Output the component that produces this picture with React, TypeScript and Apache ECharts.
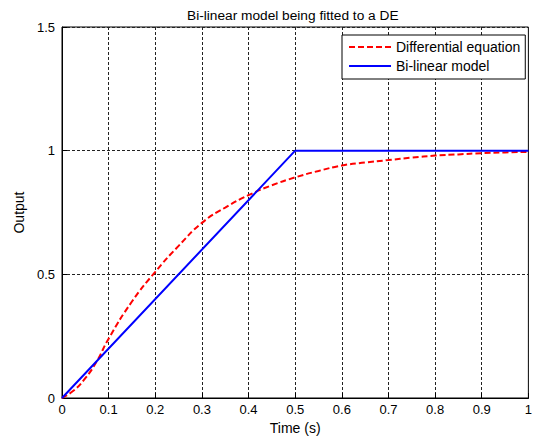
import React, { useEffect, useRef } from "react";
import * as echarts from "echarts";

const titleText = "Bi-linear model being fitted to a DE";
const xName = "Time (s)";
const yName = "Output";

const deTime = [0, 0.025, 0.05, 0.075, 0.1, 0.15, 0.2, 0.25, 0.3, 0.35, 0.4, 0.45, 0.5, 0.55, 0.6, 0.65, 0.7, 0.75, 0.8, 0.85, 0.9, 0.95, 1.0];
const deOutput = [0, 0.03, 0.08, 0.15, 0.24, 0.39, 0.51, 0.615, 0.708, 0.77, 0.82, 0.86, 0.892, 0.918, 0.94, 0.952, 0.962, 0.972, 0.98, 0.985, 0.99, 0.993, 0.995];

const blTime = [0, 0.5, 1.0];
const blOutput = [0, 1, 1];

const FONT = "'Liberation Sans', Arial, sans-serif";

export default function App() {
  const ref = useRef<HTMLDivElement>(null);
  useEffect(() => {
    if (!ref.current) return;
    const chart = echarts.init(ref.current, undefined, { renderer: "svg" });
    const gridLine = { show: true, lineStyle: { color: "#222", width: 1, type: [3, 2] as any } };
    chart.setOption({
      animation: false,
      backgroundColor: "#fff",
      textStyle: { fontFamily: FONT },
      title: {
        text: titleText,
        left: 182,
        top: 3,
        textStyle: { fontFamily: FONT, fontSize: 13.7, fontWeight: "normal", color: "#000" },
      },
      grid: {
        left: 62,
        right: 3,
        top: 27,
        bottom: 42,
        show: true,
        borderColor: "#000",
        borderWidth: 1,
        backgroundColor: "#fff",
      },
      legend: {
        orient: "vertical",
        left: 342,
        top: 35,
        padding: [5, 5, 6, 6],
        itemWidth: 42,
        itemHeight: 14,
        itemGap: 5,
        borderColor: "#000",
        borderWidth: 1,
        backgroundColor: "#fff",
        itemStyle: { opacity: 0 },
        textStyle: { fontFamily: FONT, fontSize: 14, color: "#000" },
        data: ["Differential equation", "Bi-linear model"],
      },
      xAxis: {
        type: "value",
        min: 0,
        max: 1,
        interval: 0.1,
        name: xName,
        nameLocation: "middle",
        nameGap: 22,
        nameTextStyle: { fontFamily: FONT, fontSize: 14, color: "#000" },
        axisLine: { show: true, lineStyle: { color: "#000", width: 1 } },
        axisTick: { show: true, inside: true, length: 5, lineStyle: { color: "#000" } },
        axisLabel: { fontFamily: FONT, fontSize: 13, color: "#000", margin: 5 },
        splitLine: gridLine,
      },
      yAxis: {
        type: "value",
        min: 0,
        max: 1.5,
        interval: 0.5,
        name: yName,
        nameLocation: "middle",
        nameGap: 33,
        nameTextStyle: { fontFamily: FONT, fontSize: 14, color: "#000" },
        axisLine: { show: true, lineStyle: { color: "#000", width: 1 } },
        axisTick: { show: true, inside: true, length: 5, lineStyle: { color: "#000" } },
        axisLabel: { fontFamily: FONT, fontSize: 13, color: "#000", margin: 7 },
        splitLine: gridLine,
      },
      series: [
        {
          name: "Differential equation",
          type: "line",
          smooth: true,
          symbol: "none",
          data: deTime.map((t, i) => [t, deOutput[i]]),
          lineStyle: { color: "#ff0000", width: 2, type: [6, 3] as any },
          itemStyle: { color: "#ff0000" },
          z: 3,
        },
        {
          name: "Bi-linear model",
          type: "line",
          symbol: "none",
          data: blTime.map((t, i) => [t, blOutput[i]]),
          lineStyle: { color: "#0000ff", width: 2 },
          itemStyle: { color: "#0000ff" },
          z: 4,
        },
      ],
    });
    return () => chart.dispose();
  }, []);
  return (
    <div
      ref={ref}
      style={{ position: "fixed", left: 0, top: 0, width: 535, height: 440, background: "#fff" }}
    />
  );
}
